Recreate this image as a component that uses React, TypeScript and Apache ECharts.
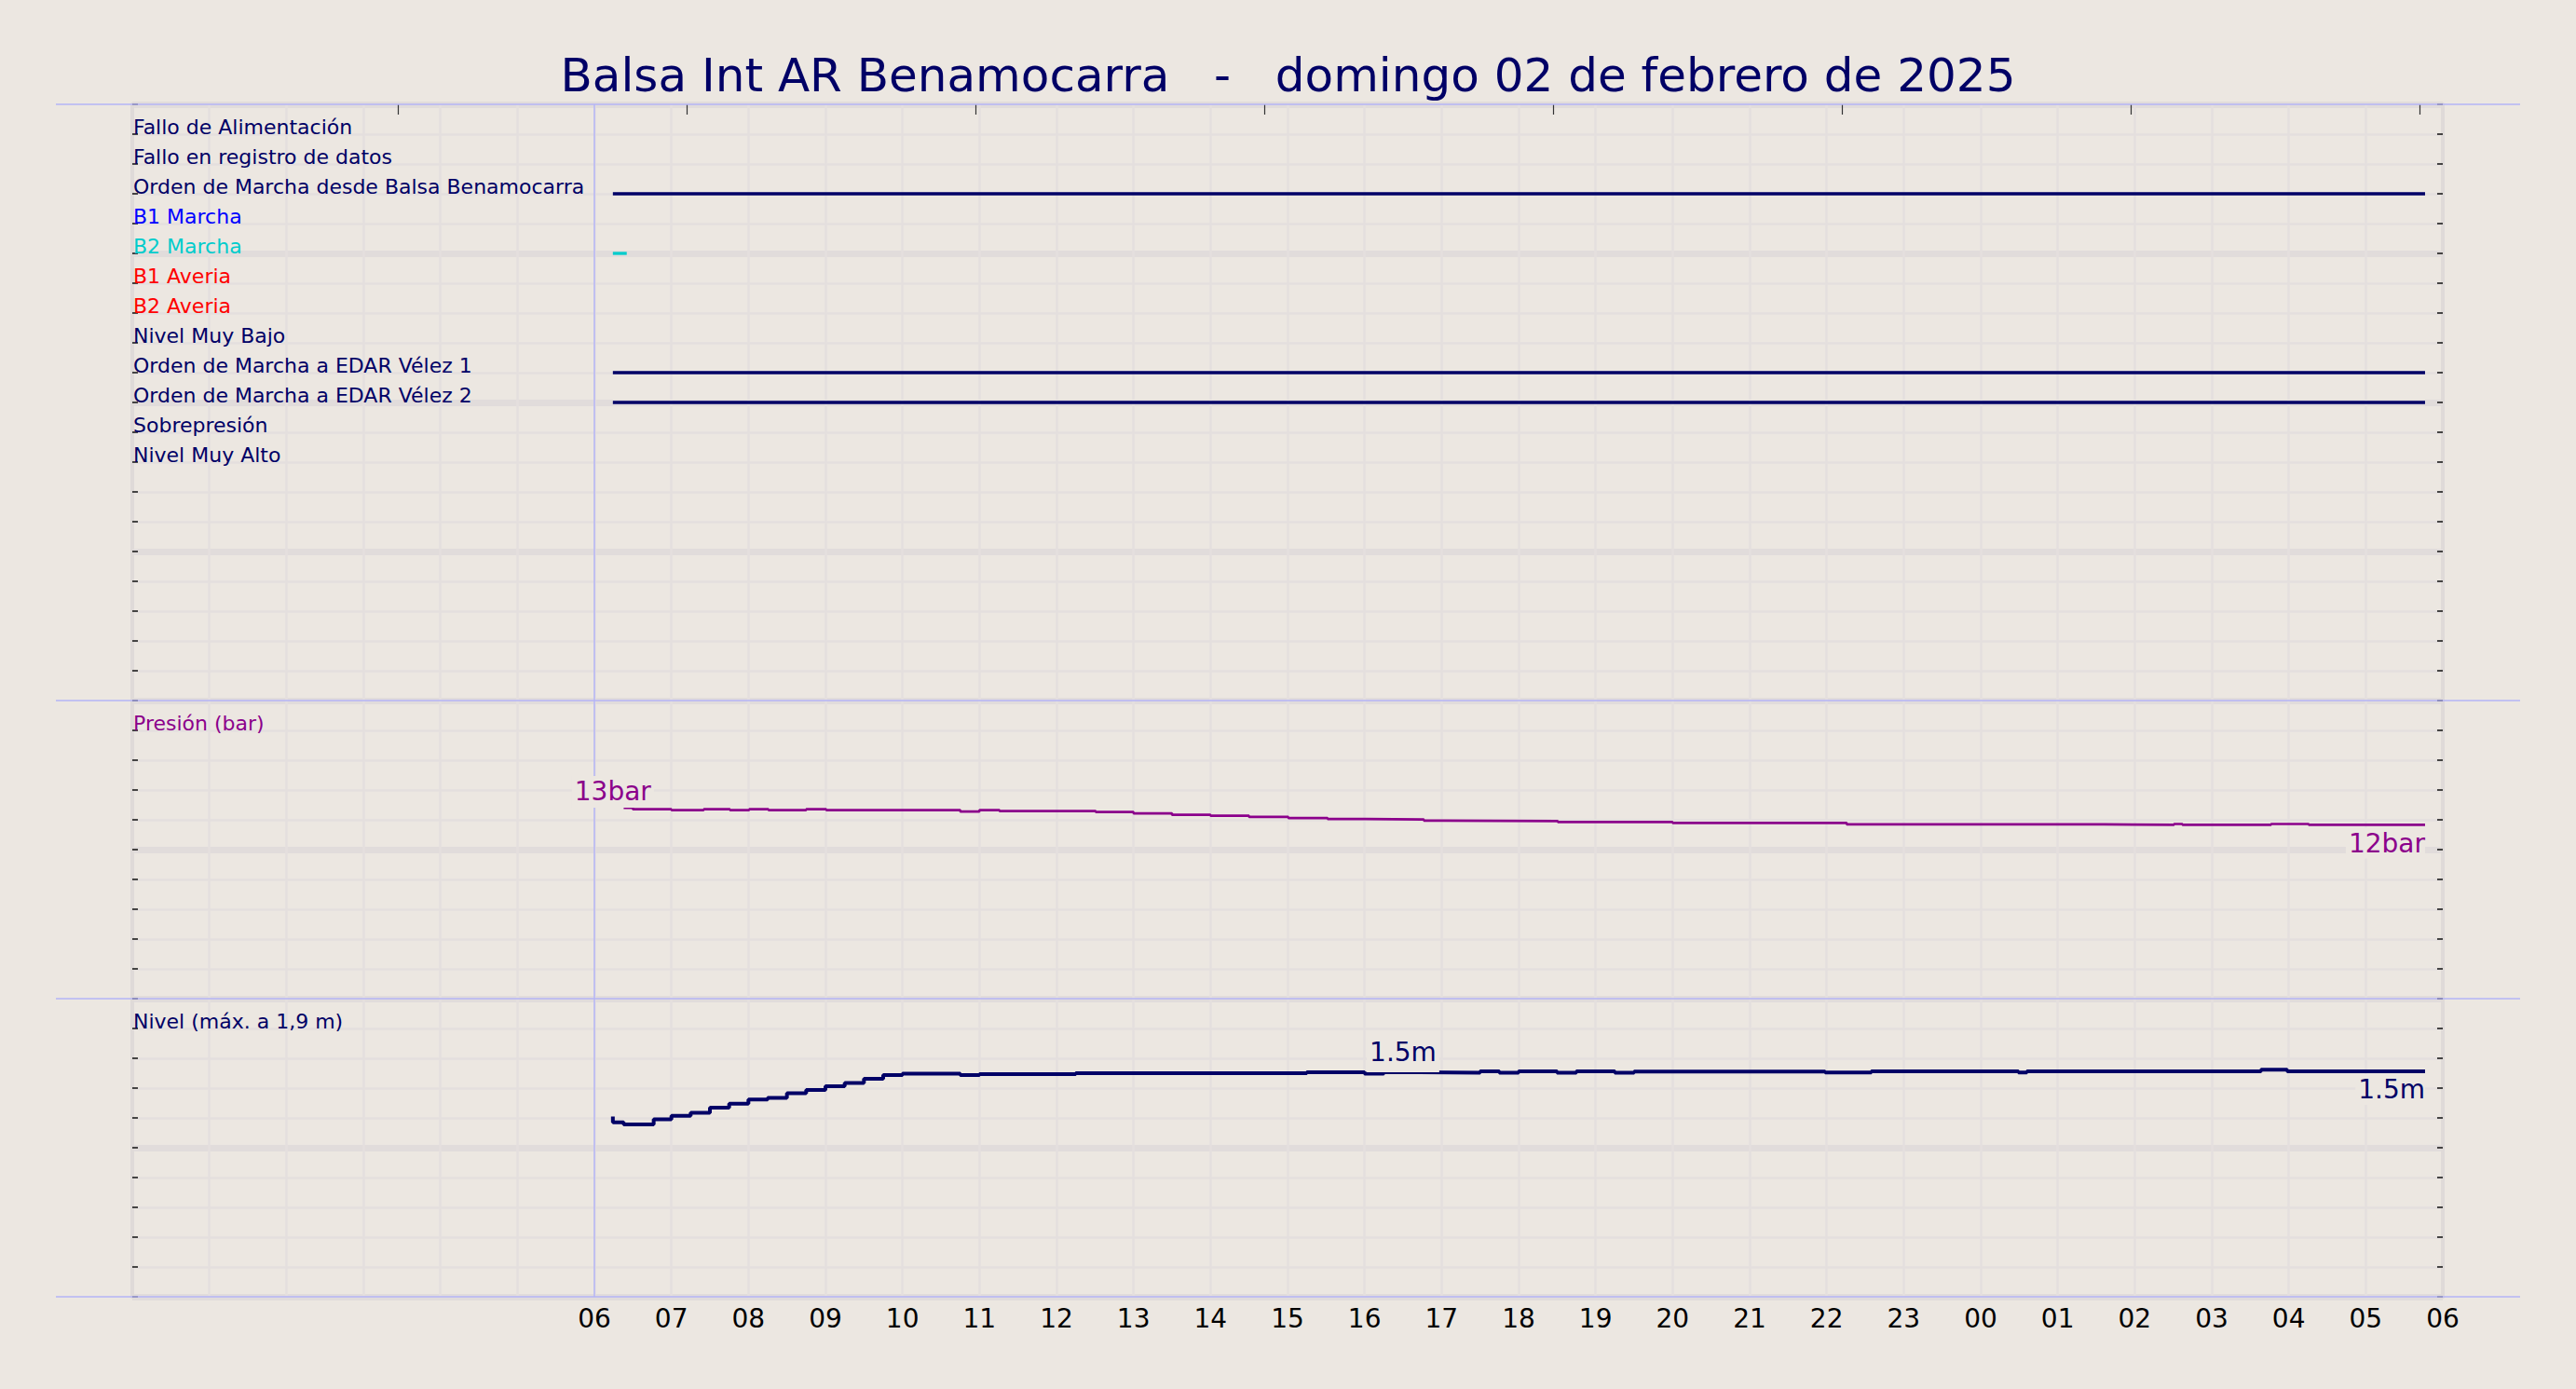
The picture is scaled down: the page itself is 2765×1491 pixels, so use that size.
import { useEffect, useRef } from "react";
import * as echarts from "echarts";

// --- datos ---
const titleText = "Balsa Int AR Benamocarra   -   domingo 02 de febrero de 2025";

const signalNames = [
    "Fallo de Alimentación",
    "Fallo en registro de datos",
    "Orden de Marcha desde Balsa Benamocarra",
    "B1 Marcha",
    "B2 Marcha",
    "B1 Averia",
    "B2 Averia",
    "Nivel Muy Bajo",
    "Orden de Marcha a EDAR Vélez 1",
    "Orden de Marcha a EDAR Vélez 2",
    "Sobrepresión",
    "Nivel Muy Alto",
];
const signalColors = [
    "#000066", "#000066", "#000066", "#0000ff", "#00cccc", "#ff0000",
    "#ff0000", "#000066", "#000066", "#000066", "#000066", "#000066",
];

// tramos activos [inicio, fin] en horas desde las 00:00
const ordenBalsaOn = [[6.24, 29.77]];
const b2MarchaOn = [[6.24, 6.42]];
const edar1On = [[6.24, 29.77]];
const edar2On = [[6.24, 29.77]];

const pressureHours = [
    6.38, 6.5, 7.0, 7.42, 7.76, 8.01, 8.26, 8.75, 9.01, 10.75, 11.0, 11.26, 12.51,
    13.0, 13.5, 14.0, 14.5, 15.01, 15.52, 16.02, 16.77, 17.01, 18.51, 20.0, 22.26,
    25.6, 26.51, 26.62, 27.77, 28.26, 29.77,
];
const pressureValues = [
    12.81, 12.81, 12.71, 12.65, 12.71, 12.65, 12.71, 12.65, 12.71, 12.65, 12.56, 12.65, 12.58,
    12.52, 12.43, 12.33, 12.27, 12.19, 12.12, 12.06, 12.02, 11.95, 11.91, 11.85, 11.79,
    11.7, 11.66, 11.72, 11.66, 11.72, 11.66,
];

const levelHours = [
    6.24, 6.38, 6.77, 7.0, 7.25, 7.5, 7.75, 8.0, 8.25, 8.5, 8.75, 9.0, 9.25, 9.5, 9.75,
    10.0, 10.75, 11.0, 12.25, 15.25, 16.0, 16.25, 16.5, 17.5, 17.75, 18.0, 18.5, 18.75,
    19.25, 19.5, 21.98, 22.58, 24.49, 24.6, 27.64, 27.98, 29.77,
];
const levelValues = [
    1.21, 1.171, 1.156, 1.191, 1.214, 1.235, 1.268, 1.296, 1.323, 1.334, 1.365, 1.387, 1.412, 1.434, 1.463,
    1.488, 1.497, 1.488, 1.494, 1.5, 1.507, 1.497, 1.507, 1.503, 1.513, 1.503, 1.513, 1.503,
    1.513, 1.503, 1.511, 1.505, 1.513, 1.505, 1.513, 1.523, 1.513,
];
const levelMidLabelIndex = 22;

const hourLabels = [6, 7, 8, 9, 10, 11, 12, 13, 14, 15, 16, 17, 18, 19, 20, 21, 22, 23, 24, 25, 26, 27, 28, 29, 30];
const topTickHours = [3.447, 7.197, 10.947, 14.697, 18.447, 22.197, 25.947, 29.697];
const separatorRows = [0, 20, 30, 40];
const guideHour = 6;

// --- estilo ---
const BG = "#ECE7E1";
const NAVY = "#000066";
const PURPLE = "#8B008B";
const GRID_THIN = "#E4DFDE";
const GRID_THICK = "#E1DCDB";
const BORDER = "#DFDAD8";
const SEP = "#B4B4F6";
const FONT = "DejaVu Sans";

const hourAxis = (gridIndex: number) => ({
    type: "value",
    gridIndex,
    min: 0,
    max: 30,
    interval: 1,
    axisLine: { show: false },
    axisTick: { show: false },
    axisLabel: { show: false },
    splitLine: { show: true, lineStyle: { color: GRID_THIN, width: 2.5 } },
});

// 4 ejes por panel: etiquetas + rejilla fina, marcas izq., marcas der., rejilla gruesa
const panelAxes = (
    gridIndex: number,
    min: number,
    max: number,
    step: number,
    thickStep: number,
    inverse: boolean,
    labelValues: number[],
    labelText: (v: number) => string,
    labelColor: (v: number) => string
) => {
    const base = { type: "value", gridIndex, min, max, inverse };
    const tick = { show: true, inside: true, length: 6, lineStyle: { color: "#111", width: 1.5 } };
    return [
        {
            ...base, interval: step, position: "left",
            axisLine: { show: false },
            axisTick: { show: false },
            axisLabel: {
                show: true, inside: true, margin: 1, customValues: labelValues,
                formatter: (v: number) => labelText(Number(v)),
                color: (v: any) => labelColor(Number(v)),
                fontSize: 22, fontFamily: FONT, verticalAlign: "bottom", lineHeight: 16,
            },
            splitLine: { show: true, lineStyle: { color: GRID_THIN, width: 2.5 } },
        },
        {
            ...base, interval: step, position: "left",
            axisLine: { show: true, lineStyle: { color: BORDER, width: 4 } },
            axisTick: tick,
            axisLabel: { show: false },
            splitLine: { show: false },
        },
        {
            ...base, interval: step, position: "right",
            axisLine: { show: true, lineStyle: { color: BORDER, width: 4 } },
            axisTick: tick,
            axisLabel: { show: false },
            splitLine: { show: false },
        },
        {
            ...base, interval: thickStep, position: "left",
            axisLine: { show: false }, axisTick: { show: false }, axisLabel: { show: false },
            splitLine: { show: true, lineStyle: { color: GRID_THICK, width: 7 } },
        },
    ];
};

const valueLabel = (color: string, extra: object) => ({
    show: true,
    color,
    fontSize: 28,
    fontFamily: FONT,
    lineHeight: 28,
    backgroundColor: BG,
    ...extra,
});

const guideSeries = (xIdx: number, yIdx: number, yMin: number) => ({
    type: "line",
    xAxisIndex: xIdx,
    yAxisIndex: yIdx,
    data: [[guideHour, yMin]],
    symbol: "none",
    lineStyle: { opacity: 0 },
    silent: true,
    z: 1,
    markLine: {
        silent: true,
        symbol: ["none", "none"],
        label: { show: false },
        lineStyle: { color: SEP, width: 1.5, type: "solid" },
        data: [{ xAxis: guideHour }],
    },
});

function App() {
    const chartRef = useRef<HTMLDivElement | null>(null);

    useEffect(() => {
        if (!chartRef.current) return;
        const chart = echarts.init(chartRef.current, null, { renderer: "svg" });

        const tracks = [
            { row: 3, on: ordenBalsaOn },
            { row: 5, on: b2MarchaOn },
            { row: 9, on: edar1On },
            { row: 10, on: edar2On },
        ];
        const signalSeries = tracks.flatMap((t) =>
            t.on.map(([s, e]) => ({
                type: "line",
                xAxisIndex: 0,
                yAxisIndex: 0,
                data: [[s, t.row], [e, t.row]],
                symbol: "none",
                silent: true,
                lineStyle: { color: signalColors[t.row - 1], width: 3.3 },
                z: 3,
            }))
        );

        const pLast = pressureValues.length - 1;
        const lLast = levelValues.length - 1;

        chart.setOption({
            animation: false,
            backgroundColor: BG,
            title: {
                text: titleText,
                left: "center",
                top: 51,
                padding: [5, 5, 5, 12],
                textStyle: { color: NAVY, fontSize: 50, fontWeight: "normal", fontFamily: FONT },
            },
            grid: [
                { left: 142, right: 143, top: 112, height: 640 },
                { left: 142, right: 143, top: 752, height: 320 },
                { left: 142, right: 143, top: 1072, height: 320 },
                { left: 60, right: 60, top: 112, height: 1280 },
            ],
            xAxis: [
                hourAxis(0),
                {
                    type: "value", gridIndex: 0, position: "top", min: 0, max: 30,
                    axisLine: { show: false }, axisLabel: { show: false }, splitLine: { show: false },
                    axisTick: {
                        show: true, inside: true, length: 11, customValues: topTickHours,
                        lineStyle: { color: "#333", width: 1.2 },
                    },
                },
                hourAxis(1),
                {
                    ...hourAxis(2),
                    axisLabel: {
                        show: true, customValues: hourLabels, margin: 9,
                        formatter: (v: number) => String(Number(v) % 24).padStart(2, "0"),
                        color: "#000", fontSize: 28, fontFamily: FONT,
                    },
                },
                { type: "value", gridIndex: 3, min: 0, max: 1, show: false },
            ],
            yAxis: [
                ...panelAxes(0, 0, 20, 1, 5, true, signalNames.map((_, i) => i + 1),
                    (v) => signalNames[v - 1] ?? "", (v) => signalColors[v - 1] ?? NAVY),
                ...panelAxes(1, 0, 20, 2, 10, false, [18], () => "Presión (bar)", () => PURPLE),
                ...panelAxes(2, 0, 2, 0.2, 1, false, [1.8], () => "Nivel (máx. a 1,9 m)", () => NAVY),
                { type: "value", gridIndex: 3, min: 0, max: 40, inverse: true, show: false },
            ],
            series: [
                {
                    type: "line",
                    xAxisIndex: 4,
                    yAxisIndex: 12,
                    data: [[0, 0]],
                    symbol: "none",
                    lineStyle: { opacity: 0 },
                    silent: true,
                    z: 1,
                    markLine: {
                        silent: true,
                        symbol: ["none", "none"],
                        label: { show: false },
                        lineStyle: { color: SEP, width: 1.5, type: "solid" },
                        data: separatorRows.map((r) => ({ yAxis: r })),
                    },
                },
                guideSeries(0, 0, 0),
                guideSeries(2, 4, 0),
                guideSeries(3, 8, 0),
                ...signalSeries,
                {
                    type: "line",
                    xAxisIndex: 2,
                    yAxisIndex: 4,
                    step: "start",
                    data: pressureHours.map((h, i) => [h, pressureValues[i]]),
                    symbol: "none",
                    silent: true,
                    lineStyle: { color: PURPLE, width: 2.7 },
                    z: 3,
                    markPoint: {
                        symbol: "circle",
                        symbolSize: 0,
                        silent: true,
                        data: [
                            {
                                coord: [levelHours[0], pressureValues[0]],
                                value: pressureValues[0],
                                label: valueLabel(PURPLE, {
                                    position: [0, 0], align: "center", verticalAlign: "bottom",
                                    padding: [2, 3, 4, 3],
                                }),
                            },
                            {
                                coord: [pressureHours[pLast], pressureValues[pLast]],
                                value: pressureValues[pLast],
                                label: valueLabel(PURPLE, {
                                    position: [0, 3], align: "right", verticalAlign: "top",
                                    padding: [3, 0, 2, 3],
                                }),
                            },
                        ],
                        label: { formatter: (p: any) => Math.round(p.value) + "bar" },
                    },
                },
                {
                    type: "line",
                    xAxisIndex: 3,
                    yAxisIndex: 8,
                    step: "start",
                    data: levelHours.map((h, i) => [h, levelValues[i]]),
                    symbol: "none",
                    silent: true,
                    lineStyle: { color: NAVY, width: 4 },
                    z: 3,
                    markPoint: {
                        symbol: "circle",
                        symbolSize: 0,
                        silent: true,
                        data: [
                            {
                                coord: [levelHours[levelMidLabelIndex], levelValues[levelMidLabelIndex]],
                                value: levelValues[levelMidLabelIndex],
                                label: valueLabel(NAVY, {
                                    position: [0, 0], align: "center", verticalAlign: "bottom",
                                    padding: [2, 3, 7, 3],
                                }),
                            },
                            {
                                coord: [levelHours[lLast], levelValues[lLast]],
                                value: levelValues[lLast],
                                label: valueLabel(NAVY, {
                                    position: [0, 3], align: "right", verticalAlign: "top",
                                    padding: [3, 0, 2, 3],
                                }),
                            },
                        ],
                        label: { formatter: (p: any) => Number(p.value).toFixed(1) + "m" },
                    },
                },
            ],
        });

        const handleResize = () => chart.resize();
        window.addEventListener("resize", handleResize);
        return () => {
            window.removeEventListener("resize", handleResize);
            chart.dispose();
        };
    }, []);

    return (
        <div
            ref={chartRef}
            style={{ position: "fixed", left: 0, top: 0, width: "100vw", height: "100vh", background: BG }}
        />
    );
}

export default App;
